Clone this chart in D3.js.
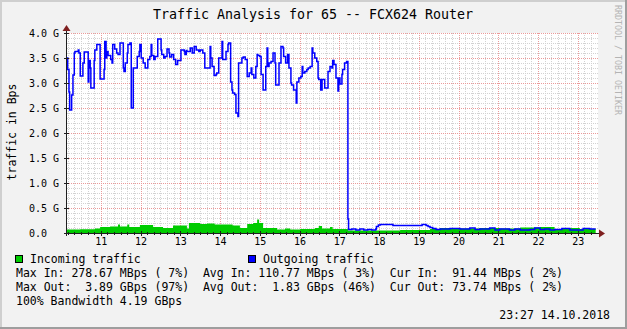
<!DOCTYPE html>
<html><head><meta charset="utf-8">
<script src="https://cdn.jsdelivr.net/npm/d3@7"></script>
<style>
body{margin:0;background:#f2f2f2}
svg{display:block}
text{font-family:"DejaVu Sans Mono",monospace;white-space:pre}
</style>
</head><body>
<svg id="c" width="627" height="329"></svg>
<script>
// ---------- data ----------
const chartTitle = "Traffic Analysis for 65 -- FCX624 Router";
const yAxisTitle = "traffic in Bps";
const watermark = "RRDTOOL / TOBI OETIKER";
const timeStart = "10:09";
const timeEnd = "23:29";
const xTickHours = [11,12,13,14,15,16,17,18,19,20,21,22,23];
const yTickValues = [0,0.5,1,1.5,2,2.5,3,3.5,4];
const yTickLabels = ["0.0","0.5 G","1.0 G","1.5 G","2.0 G","2.5 G","3.0 G","3.5 G","4.0 G"];
const legendNames = ["Incoming traffic","Outgoing traffic"];
const legendColors = ["#00cc00","#0000ff"];
const statLines = [
  "Max In: 278.67 MBps ( 7%)  Avg In: 110.77 MBps ( 3%)  Cur In:  91.44 MBps ( 2%)",
  "Max Out:  3.89 GBps (97%)  Avg Out:  1.83 GBps (46%)  Cur Out: 73.74 MBps ( 2%)",
  "100% Bandwidth 4.19 GBps"
];
const stampText = "23:27 14.10.2018";

// values in G bytes/s, [time, value] (step starts at time)
const incoming = [["10:09",0.07],["10:29",0.075],["10:51",0.09],["10:59",0.12],["11:14",0.13],["11:26",0.17],["11:29",0.13],["11:40",0.17],["11:43",0.12],["11:59",0.16],["12:19",0.12],["12:34",0.10],["12:49",0.15],["13:10",0.09],["13:13",0.20],["13:30",0.18],["13:40",0.19],["13:52",0.17],["14:19",0.15],["14:30",0.10],["14:41",0.18],["14:50",0.20],["14:56",0.27],["14:59",0.20],["15:05",0.10],["15:26",0.07],["15:38",0.09],["15:46",0.07],["16:01",0.08],["16:23",0.10],["16:29",0.14],["16:34",0.09],["16:46",0.12],["16:50",0.08],["17:13",0.05],["18:01",0.05],["18:32",0.06],["19:17",0.08],["19:32",0.10],["20:02",0.09],["20:32",0.10],["21:02",0.09],["21:33",0.11],["22:03",0.12],["22:25",0.08],["22:40",0.10],["23:03",0.08],["23:27",0.08]];

const outgoing = [["10:09",3.50],["10:10",3.27],["10:12",2.82],["10:13",2.46],["10:16",2.76],["10:18",3.16],["10:20",3.60],["10:21",3.63],["10:26",3.66],["10:27",3.60],["10:29",3.14],["10:33",3.40],["10:35",3.62],["10:41",3.02],["10:42",3.45],["10:44",3.30],["10:45",2.90],["10:50",3.45],["10:51",3.66],["10:54",3.77],["10:59",3.08],["11:05",3.27],["11:06",3.83],["11:08",3.50],["11:09",3.63],["11:11",3.55],["11:15",3.47],["11:17",3.40],["11:18",3.77],["11:21",3.68],["11:24",3.60],["11:26",3.57],["11:29",3.80],["11:34",3.30],["11:35",3.23],["11:37",3.40],["11:40",3.60],["11:41",3.77],["11:44",3.80],["11:46",2.50],["11:49",3.30],["11:55",3.53],["11:58",3.63],["11:59",3.77],["12:01",3.50],["12:04",3.40],["12:07",3.30],["12:11",3.47],["12:14",3.53],["12:16",3.77],["12:17",3.55],["12:20",3.47],["12:22",3.53],["12:26",3.88],["12:31",3.66],["12:32",3.57],["12:35",3.50],["12:37",3.53],["12:40",3.68],["12:43",3.60],["12:44",3.52],["12:47",3.57],["12:50",3.47],["12:53",3.37],["12:56",3.45],["13:01",3.66],["13:06",3.63],["13:07",3.57],["13:09",3.65],["13:10",3.63],["13:15",3.70],["13:18",3.60],["13:21",3.73],["13:24",3.66],["13:28",3.63],["13:30",3.66],["13:34",3.60],["13:37",3.30],["13:45",3.73],["13:46",3.50],["13:48",3.33],["13:51",3.15],["13:54",3.17],["13:55",3.20],["13:58",3.50],["14:03",3.83],["14:04",3.47],["14:09",3.63],["14:12",3.77],["14:13",3.80],["14:16",3.02],["14:18",2.86],["14:19",2.80],["14:22",2.77],["14:24",2.40],["14:27",2.33],["14:28",3.40],["14:33",3.50],["14:35",3.52],["14:38",3.47],["14:41",3.13],["14:44",3.20],["14:47",3.30],["14:48",3.17],["14:51",3.10],["14:54",3.33],["14:56",3.57],["14:57",3.55],["15:00",3.53],["15:02",3.17],["15:05",2.86],["15:09",3.33],["15:11",3.70],["15:12",3.33],["15:14",3.40],["15:17",3.43],["15:20",3.60],["15:23",3.40],["15:24",2.96],["15:29",3.40],["15:32",3.73],["15:35",3.70],["15:36",3.53],["15:39",3.40],["15:42",3.57],["15:44",3.30],["15:47",3.00],["15:48",2.96],["15:51",2.86],["15:55",2.60],["15:56",3.02],["15:59",3.10],["16:02",3.13],["16:04",3.33],["16:05",3.20],["16:08",3.23],["16:11",3.27],["16:13",3.30],["16:16",3.33],["16:19",3.70],["16:20",3.60],["16:23",3.50],["16:26",3.43],["16:28",3.10],["16:29",3.07],["16:32",2.86],["16:34",3.07],["16:38",2.90],["16:43",3.23],["16:46",3.33],["16:49",3.30],["16:50",3.45],["16:52",3.37],["16:55",3.10],["16:58",2.84],["16:59",3.10],["17:01",2.98],["17:04",3.17],["17:05",3.27],["17:08",3.40],["17:11",3.43],["17:13",0.28],["17:14",0.07],["17:19",0.08],["17:25",0.06],["17:31",0.08],["17:37",0.06],["17:43",0.07],["17:49",0.06],["17:55",0.08],["17:56",0.13],["17:59",0.16],["18:02",0.17],["18:21",0.15],["19:05",0.17],["19:11",0.15],["19:14",0.13],["19:17",0.11],["19:21",0.09],["19:26",0.07],["19:32",0.08],["19:47",0.09],["20:02",0.08],["20:17",0.10],["20:25",0.07],["20:32",0.08],["20:47",0.10],["20:55",0.06],["21:02",0.08],["21:17",0.06],["21:25",0.08],["21:33",0.06],["21:48",0.07],["21:55",0.10],["22:03",0.07],["22:10",0.08],["22:18",0.06],["22:25",0.07],["22:36",0.09],["22:48",0.06],["23:03",0.06],["23:08",0.09],["23:18",0.08],["23:27",0.08]];

// ---------- drawing ----------
const W = 627, H = 329;
const parseT = s => { const [h,m] = s.split(":").map(Number); return new Date(2018,9,14,h,m); };
const svg = d3.select("#c");

const x = d3.scaleTime().domain([parseT(timeStart), parseT(timeEnd)]).range([67, 597]);
const y = d3.scaleLinear().domain([0, 4]).range([233, 33]);

// background and 3D frame
svg.append("rect").attr("x",0).attr("y",0).attr("width",W).attr("height",H).attr("fill","#f2f2f2");
svg.append("rect").attr("x",0).attr("y",0).attr("width",W).attr("height",2).attr("fill","#cfcfcf");
svg.append("rect").attr("x",0).attr("y",0).attr("width",2).attr("height",H).attr("fill","#cfcfcf");
svg.append("rect").attr("x",0).attr("y",H-2).attr("width",W).attr("height",2).attr("fill","#9e9e9e");
svg.append("rect").attr("x",W-2).attr("y",0).attr("width",2).attr("height",H).attr("fill","#9e9e9e");

// canvas
svg.append("rect").attr("x",67).attr("y",y(4)).attr("width",598-67).attr("height",y(0)-y(4)).attr("fill","#ffffff");

const grid = svg.append("g").attr("shape-rendering","crispEdges");
// minor vertical grid every 10 min
const minorT = d3.timeMinute.every(10).range(x.domain()[0], x.domain()[1]).filter(d => d.getMinutes() !== 0);
grid.selectAll(".vmin").data(minorT).join("line")
  .attr("x1", d => Math.round(x(d)) + 0.5).attr("x2", d => Math.round(x(d)) + 0.5)
  .attr("y1", y(4)).attr("y2", y(0))
  .attr("stroke","#d2d2d2").attr("stroke-dasharray","1,1");
// minor horizontal grid every 0.1
const minorY = d3.range(1, 41).map(i => i / 10).filter(v => Math.abs(v * 2 - Math.round(v * 2)) > 1e-6);
grid.selectAll(".hmin").data(minorY).join("line")
  .attr("x1", 67).attr("x2", 598)
  .attr("y1", d => Math.round(y(d)) + 0.5).attr("y2", d => Math.round(y(d)) + 0.5)
  .attr("stroke","#d2d2d2").attr("stroke-dasharray","1,1");
// major grid
const majorT = xTickHours.map(h => new Date(2018,9,14,h,0));
grid.selectAll(".vmaj").data(majorT).join("line")
  .attr("x1", d => Math.round(x(d)) + 0.5).attr("x2", d => Math.round(x(d)) + 0.5)
  .attr("y1", y(4)).attr("y2", y(0))
  .attr("stroke","#eb9a9a").attr("stroke-dasharray","1,1");
grid.selectAll(".hmaj").data(yTickValues.filter(v => v > 0)).join("line")
  .attr("x1", 67).attr("x2", 598)
  .attr("y1", d => Math.round(y(d)) + 0.5).attr("y2", d => Math.round(y(d)) + 0.5)
  .attr("stroke","#eb9a9a").attr("stroke-dasharray","1,1");

// incoming area
const inData = incoming.map(([t, v]) => ({ t: parseT(t), v }));
const outData = outgoing.map(([t, v]) => ({ t: parseT(t), v }));
svg.append("path").datum(inData)
  .attr("d", d3.area().curve(d3.curveStepAfter).x(d => x(d.t)).y0(y(0)).y1(d => y(d.v)))
  .attr("fill", legendColors[0]);
// outgoing line
svg.append("path").datum(outData)
  .attr("d", d3.line().curve(d3.curveStepAfter).x(d => x(d.t)).y(d => y(d.v)))
  .attr("fill","none").attr("stroke", legendColors[1]).attr("stroke-width",1.5);

// axes lines
const axisCol = "#1f1f1f", arrowCol = "#7f1f1f";
svg.append("line").attr("x1",64).attr("x2",600).attr("y1",233.5).attr("y2",233.5).attr("stroke",axisCol);
svg.append("line").attr("x1",66.5).attr("x2",66.5).attr("y1",236).attr("y2",30).attr("stroke",axisCol);
svg.append("path").attr("d","M599,229.5 L605,233.5 L599,237.5 Z").attr("fill",arrowCol);
svg.append("path").attr("d","M62.5,31 L66.5,25 L70.5,31 Z").attr("fill",arrowCol);

// ticks on axes
const tickG = svg.append("g").attr("shape-rendering","crispEdges");
tickG.selectAll(".xt").data(majorT).join("line")
  .attr("x1", d => Math.round(x(d)) + 0.5).attr("x2", d => Math.round(x(d)) + 0.5)
  .attr("y1", 231).attr("y2", 236).attr("stroke", axisCol);
tickG.selectAll(".xtm").data(minorT).join("line")
  .attr("x1", d => Math.round(x(d)) + 0.5).attr("x2", d => Math.round(x(d)) + 0.5)
  .attr("y1", 232).attr("y2", 235).attr("stroke", axisCol);
tickG.selectAll(".yt").data(yTickValues).join("line")
  .attr("x1", 64).attr("x2", 69)
  .attr("y1", d => Math.round(y(d)) + 0.5).attr("y2", d => Math.round(y(d)) + 0.5).attr("stroke", axisCol);

// axis labels through d3 axes
const xAxis = d3.axisBottom(x).tickValues(majorT).tickFormat(d => String(d.getHours())).tickSize(0).tickPadding(5);
const gx = svg.append("g").attr("transform","translate(0,233)").call(xAxis);
gx.select(".domain").remove();
gx.selectAll("text").attr("font-family","DejaVu Sans Mono").attr("font-size",10).attr("fill","#000").attr("dy","0.71em");

const yAxis = d3.axisLeft(y).tickValues(yTickValues).tickFormat((d, i) => yTickLabels[i]).tickSize(0);
const gy = svg.append("g").attr("transform","translate(67,0)").call(yAxis);
gy.select(".domain").remove();
gy.selectAll("text").attr("font-family","DejaVu Sans Mono").attr("font-size",10).attr("fill","#000")
  .attr("text-anchor","start").attr("x",-38).attr("dy","0.36em");

// title
svg.append("text").attr("x",313).attr("y",18.5).attr("text-anchor","middle")
  .attr("font-size",13.3).attr("fill","#000").text(chartTitle);
// y title
svg.append("text").attr("transform","translate(16,132) rotate(-90)").attr("text-anchor","middle")
  .attr("font-size",11.5).attr("fill","#000").text(yAxisTitle);
// watermark
svg.append("text").attr("transform","translate(615,5) rotate(90)")
  .attr("font-size",8.3).attr("fill","#b4b4b4").text(watermark);

// legend
const legX = [15.5, 248.5];
legendNames.forEach((n, i) => {
  svg.append("rect").attr("x",legX[i]).attr("y",255.5).attr("width",7).attr("height",7)
    .attr("fill",legendColors[i]).attr("stroke","#000").attr("stroke-width",1);
  svg.append("text").attr("x",legX[i] + 14.5).attr("y",262.5).attr("font-size",11.5).attr("fill","#000").text(n);
});
statLines.forEach((s, i) => {
  svg.append("text").attr("x",16).attr("y",276.5 + i * 14).attr("font-size",11.5).attr("fill","#000").text(s);
});
svg.append("text").attr("x",610).attr("y",319).attr("text-anchor","end").attr("font-size",11.5).attr("fill","#000").text(stampText);
</script>
</body></html>
